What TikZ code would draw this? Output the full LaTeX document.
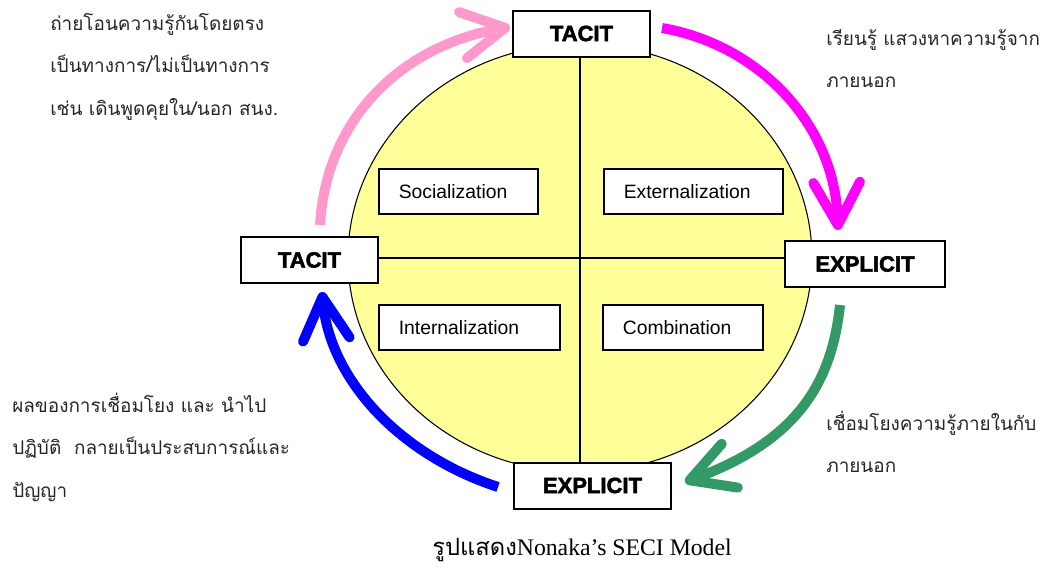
\documentclass[tikz,border=0pt]{standalone}
\usepackage{fontspec}
\setmainfont{Liberation Sans}
\newfontfamily\thaifont[Script=Thai]{Loma}
\newfontfamily\serifcap{Liberation Serif}
\newfontface\heavyfont[FakeBold=2.5]{Liberation Sans Bold}
\usetikzlibrary{arrows.meta}

\definecolor{seciyellow}{HTML}{FFFF99}
\definecolor{secipink}{HTML}{FF99CC}
\definecolor{secimagenta}{HTML}{FF00FF}
\definecolor{secigreen}{HTML}{339966}
\definecolor{seciblue}{HTML}{0000FF}

\tikzset{
  stagebox/.style={draw, line width=1.5pt, fill=white, minimum height=34.5pt,
    minimum width=#1, font=\heavyfont\fontsize{16.5}{19}\selectfont},
  modebox/.style={draw, line width=1.2pt, fill=white, anchor=west,
    minimum height=33.75pt, inner xsep=15pt, text width=#1, align=left,
    font=\fontsize{14.5}{17}\selectfont},
  cyclearrow/.style={line width=7.5pt, -{Straight Barb[length=32pt,width=35pt,round]}},
  note/.style={anchor=base west, inner sep=0pt, text=black!85,
    font=\thaifont\fontsize{14.2}{17}\selectfont},
}

\begin{document}
\begin{tikzpicture}[x=0.75pt, y=-0.75pt]
    \useasboundingbox (0,0) rectangle (1043,568);

    % Knowledge circle
    \coordinate (c) at (580,258);
    \filldraw[fill=seciyellow, line width=0.8pt] (c) ellipse [x radius=174pt, y radius=160.5pt];

    % Tacit / explicit boxes
    \node[stagebox=102.75pt] (tacitT) at (581.5,33.5) {TACIT};
    \node[stagebox=102.75pt] (tacitL) at (309.5,260) {TACIT};
    \node[stagebox=120pt] (explicitR) at (865,264) {EXPLICIT};
    \node[stagebox=117.75pt] (explicitB) at (592.5,485.5) {EXPLICIT};

    % Quadrant lines
    \draw[line width=1.2pt] (c |- tacitT.south) -- (c |- explicitB.north);
    \draw[line width=1.2pt] (tacitL.east |- c) -- (explicitR.west |- c);

    % SECI modes
    \node[modebox=89.25pt] (soc) at (378,191.5) {Socialization};
    \node[modebox=104.25pt] (ext) at (603,191.5) {Externalization};
    \node[modebox=105.75pt] (int) at (378,327.5) {Internalization};
    \node[modebox=90pt] (com) at (602,327.5) {Combination};

    % Cycle arrows
    \coordinate (pinkS) at (320,225);
    \coordinate (pinkE) at (510,27);
    \coordinate (magS) at (662,28);
    \coordinate (magE) at (838,230);
    \coordinate (greenS) at (840,305);
    \coordinate (greenE) at (685,482);
    \coordinate (blueS) at (498,487);
    \coordinate (blueE) at (322,292);
    \draw[cyclearrow, secipink] (pinkS) .. controls (326,120) and (400,46) .. (pinkE);
    \draw[cyclearrow, secimagenta] (magS) .. controls (760,45) and (835,125) .. (magE);
    \draw[cyclearrow, secigreen] (greenS) .. controls (832,380) and (800,440) .. (greenE);
    \draw[cyclearrow, seciblue] (blueS) .. controls (400,455) and (330,380) .. (blueE);

    % Notes
    \foreach \t [count=\i] in {ถ่ายโอนความรู้กันโดยตรง, เป็นทางการ/ไม่เป็นทางการ, เช่น เดินพูดคุยใน/นอก สนง.}
        \node[note] (socnote-\i) at (50,{30+42.5*(\i-1)}) {\t};
    \foreach \t [count=\i] in {เรียนรู้\ แสวงหาความรู้จาก, ภายนอก}
        \node[note] (extnote-\i) at (826,{45+42*(\i-1)}) {\t};
    \foreach \t [count=\i] in {ผลของการเชื่อมโยง และ นำไป, ปฏิบัติ\ \ กลายเป็นประสบการณ์และ, ปัญญา}
        \node[note] (intnote-\i) at (12,{412+42.5*(\i-1)}) {\t};
    \foreach \t [count=\i] in {เชื่อมโยงความรู้ภายในกับ, ภายนอก}
        \node[note] (comnote-\i) at (826,{430+42*(\i-1)}) {\t};

    % Caption
    \node[anchor=base west, inner sep=0pt, font=\fontsize{17.8}{20}\selectfont] (caption)
        at (432,555) {{\thaifont รูปแสดง}{\serifcap Nonaka’s SECI Model}};
\end{tikzpicture}
\end{document}
